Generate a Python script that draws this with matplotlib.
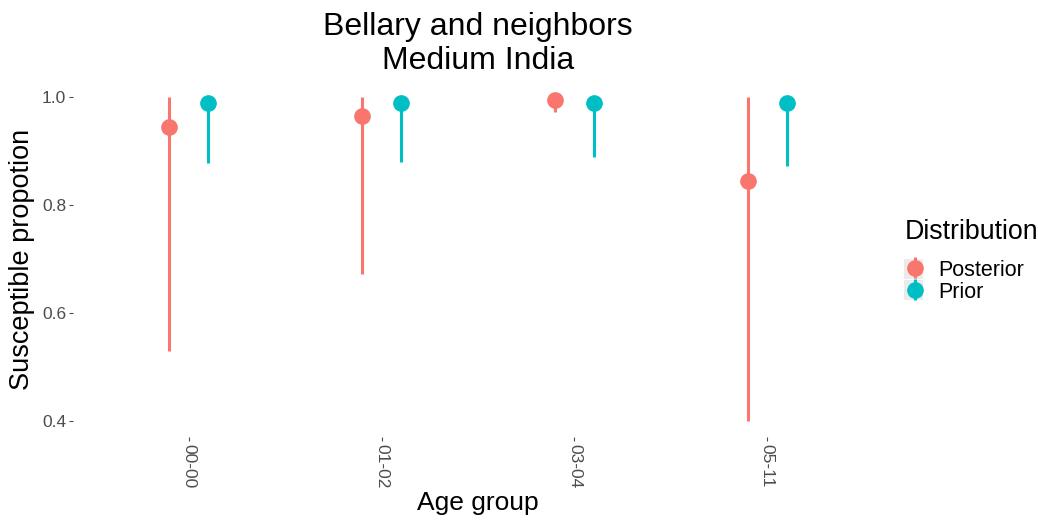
import numpy as np
import matplotlib
matplotlib.use("Agg")
import matplotlib.pyplot as plt
from matplotlib.patches import Rectangle

plt.rcParams['font.family'] = ['Liberation Sans', 'DejaVu Sans']

age_groups = ['00-00', '01-02', '03-04', '05-11']
dists = ['Posterior', 'Prior']
colors = {'Posterior': '#F8766D', 'Prior': '#00BFC4'}

post_mid = [0.944, 0.965, 0.995, 0.844]
post_lo = [0.530, 0.672, 0.972, 0.400]
post_hi = [1.000, 1.000, 1.000, 1.000]

prior_mid = [0.989, 0.989, 0.989, 0.989]
prior_lo = [0.878, 0.880, 0.889, 0.872]
prior_hi = [0.990, 0.990, 0.990, 0.990]

series = {
    'Posterior': (post_mid, post_lo, post_hi),
    'Prior': (prior_mid, prior_lo, prior_hi),
}

fig = plt.figure(figsize=(10.38, 5.22), dpi=100)
ax = fig.add_axes([0.0703, 0.1628, 0.7804, 0.682])

x = np.arange(len(age_groups))
offsets = {'Posterior': -0.1, 'Prior': 0.1}
handles = []
for d in dists:
    mid, lo, hi = (np.array(v) for v in series[d])
    yerr = [mid - lo, hi - mid]
    h = ax.errorbar(x + offsets[d], mid, yerr=yerr, fmt='o', color=colors[d],
                    ms=11, elinewidth=2.2, capsize=0, label=d)
    handles.append(h)

ax.set_xlim(-0.6, len(age_groups) - 0.4)
ax.set_ylim(0.37, 1.03)
ax.set_xticks(x)
ax.set_xticklabels(age_groups, rotation=270, fontsize=12.5, color='#4d4d4d')
ax.set_yticks([0.4, 0.6, 0.8, 1.0])
ax.set_yticklabels(['0.4', '0.6', '0.8', '1.0'], fontsize=12.5, color='#4d4d4d')
ax.tick_params(axis='both', length=3, width=0.8, color='#4d4d4d', pad=2)
for s in ax.spines.values():
    s.set_visible(False)

ax.set_xlabel('Age group', fontsize=19, labelpad=2)
ax.set_ylabel('Susceptible propotion', fontsize=19.5, labelpad=5)
ax.set_title('Bellary and neighbors\nMedium India', fontsize=23, pad=9,
             linespacing=1.15)

# legend title placed on its own, entries below it
fig.text(905 / 1038, 1 - 232 / 522, 'Distribution', fontsize=19.3,
         ha='left', va='center')
leg = fig.legend(handles=handles, labels=dists,
                 loc='upper left', bbox_to_anchor=(904 / 1038, 1 - 259 / 522),
                 frameon=False, fontsize=15.5, borderpad=0, borderaxespad=0,
                 handlelength=1.0, handleheight=1.0, handletextpad=0.6,
                 labelspacing=0.0)

# grey key backgrounds like ggplot legend keys
for yc in [269, 290]:
    fig.patches.append(Rectangle((904 / 1038, 1 - (yc + 10) / 522), 19 / 1038, 20 / 522,
                                 transform=fig.transFigure, facecolor='#ebebeb',
                                 edgecolor='none', zorder=0))

fig.savefig('out.png', dpi=100, facecolor='white')
